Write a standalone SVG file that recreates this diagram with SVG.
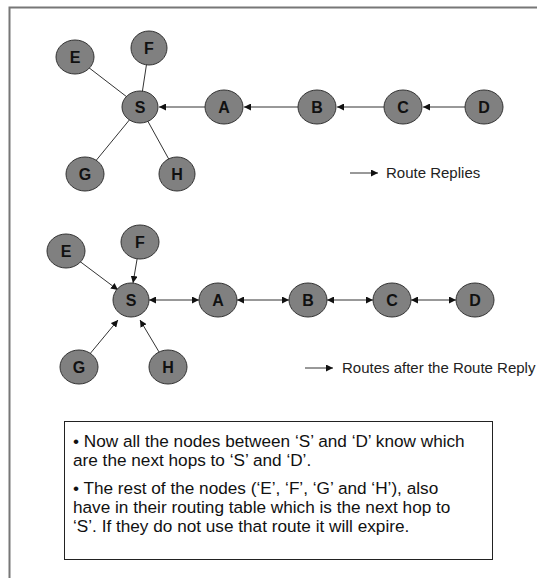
<svg xmlns="http://www.w3.org/2000/svg" width="537" height="578" viewBox="0 0 537 578">
  <style>
    .node ellipse { fill: #808080; stroke: #333; stroke-width: 1; }
    .node text { font-family: "Liberation Sans", Arial, sans-serif; font-weight: bold; font-size: 16px; fill: #111; text-anchor: middle; }
    .edge { stroke: #333; stroke-width: 1; fill: none; }
    .legend { font-family: "Liberation Sans", Arial, sans-serif; font-size: 15px; fill: #222; }
    .note { font-family: "Liberation Sans", Arial, sans-serif; font-size: 17.2px; fill: #111; }
  </style>
  <defs>
    <marker id="head" viewBox="0 0 8 8" refX="8" refY="4" markerWidth="7" markerHeight="7" markerUnits="userSpaceOnUse" orient="auto">
      <path d="M0,0 L8,4 L0,8 z" fill="#111"/>
    </marker>
    <marker id="tail" viewBox="0 0 8 8" refX="0" refY="4" markerWidth="7" markerHeight="7" markerUnits="userSpaceOnUse" orient="auto">
      <path d="M8,0 L0,4 L8,8 z" fill="#111"/>
    </marker>
  </defs>

  <rect width="537" height="578" fill="#fff"/>
  <!-- page frame -->
  <path d="M9.5,578 V7.5 H537" fill="none" stroke="#777" stroke-width="2"/>

  <g id="connectors">
    <!-- upper network: route replies -->
    <line class="edge" x1="75" y1="57" x2="140" y2="107"/>
    <line class="edge" x1="149" y1="48" x2="140" y2="107"/>
    <line class="edge" x1="85" y1="174" x2="140" y2="107"/>
    <line class="edge" x1="177" y1="174" x2="140" y2="107"/>
    <line class="edge" x1="205" y1="107" x2="159" y2="107" marker-end="url(#head)"/>
    <line class="edge" x1="298" y1="107" x2="244" y2="107" marker-end="url(#head)"/>
    <line class="edge" x1="384" y1="107" x2="337" y2="107" marker-end="url(#head)"/>
    <line class="edge" x1="465" y1="107" x2="423" y2="107" marker-end="url(#head)"/>
    <line class="edge" x1="350" y1="173" x2="378" y2="173" marker-end="url(#head)"/>

    <!-- lower network: routes after the reply -->
    <line class="edge" x1="66" y1="251" x2="118" y2="290" marker-end="url(#head)"/>
    <line class="edge" x1="140" y1="242" x2="133" y2="283" marker-end="url(#head)"/>
    <line class="edge" x1="79" y1="367" x2="118" y2="320" marker-end="url(#head)"/>
    <line class="edge" x1="168" y1="367" x2="140" y2="320" marker-end="url(#head)"/>
    <line class="edge" x1="149" y1="300" x2="199" y2="300" marker-start="url(#tail)" marker-end="url(#head)"/>
    <line class="edge" x1="237" y1="300" x2="289" y2="300" marker-start="url(#tail)" marker-end="url(#head)"/>
    <line class="edge" x1="327" y1="300" x2="373" y2="300" marker-start="url(#tail)" marker-end="url(#head)"/>
    <line class="edge" x1="411" y1="300" x2="456" y2="300" marker-start="url(#tail)" marker-end="url(#head)"/>
    <line class="edge" x1="305" y1="368" x2="333" y2="368" marker-end="url(#head)"/>
  </g>

  <!-- upper network nodes -->
  <g id="top-E" class="node"><ellipse cx="75" cy="57" rx="19" ry="17"/><text x="75" y="63">E</text></g>
  <g id="top-F" class="node"><ellipse cx="149" cy="48" rx="18" ry="17"/><text x="149" y="54">F</text></g>
  <g id="top-S" class="node"><ellipse cx="140" cy="107" rx="18" ry="16"/><text x="140" y="113">S</text></g>
  <g id="top-A" class="node"><ellipse cx="224" cy="107" rx="19" ry="17"/><text x="224" y="113">A</text></g>
  <g id="top-B" class="node"><ellipse cx="317" cy="107" rx="19" ry="17"/><text x="317" y="113">B</text></g>
  <g id="top-C" class="node"><ellipse cx="403" cy="107" rx="19" ry="17"/><text x="403" y="113">C</text></g>
  <g id="top-D" class="node"><ellipse cx="484" cy="107" rx="19" ry="17"/><text x="484" y="113">D</text></g>
  <g id="top-G" class="node"><ellipse cx="85" cy="174" rx="19" ry="17"/><text x="85" y="180">G</text></g>
  <g id="top-H" class="node"><ellipse cx="177" cy="174" rx="18" ry="17"/><text x="177" y="180">H</text></g>
  <text class="legend" x="386" y="178">Route Replies</text>

  <!-- lower network nodes -->
  <g id="bot-E" class="node"><ellipse cx="66" cy="251" rx="19" ry="17"/><text x="66" y="257">E</text></g>
  <g id="bot-F" class="node"><ellipse cx="140" cy="242" rx="19" ry="17"/><text x="140" y="248">F</text></g>
  <g id="bot-S" class="node"><ellipse cx="131" cy="300" rx="18" ry="17"/><text x="131" y="306">S</text></g>
  <g id="bot-A" class="node"><ellipse cx="218" cy="300" rx="19" ry="17"/><text x="218" y="306">A</text></g>
  <g id="bot-B" class="node"><ellipse cx="308" cy="300" rx="19" ry="17"/><text x="308" y="306">B</text></g>
  <g id="bot-C" class="node"><ellipse cx="392" cy="300" rx="19" ry="17"/><text x="392" y="306">C</text></g>
  <g id="bot-D" class="node"><ellipse cx="475" cy="300" rx="19" ry="17"/><text x="475" y="306">D</text></g>
  <g id="bot-G" class="node"><ellipse cx="79" cy="367" rx="19" ry="17"/><text x="79" y="373">G</text></g>
  <g id="bot-H" class="node"><ellipse cx="168" cy="367" rx="19" ry="17"/><text x="168" y="373">H</text></g>
  <text class="legend" x="342" y="373">Routes after the Route Reply</text>

  <!-- explanation box -->
  <g id="note">
    <rect x="64.5" y="421.5" width="428" height="138" fill="#fff" stroke="#222" stroke-width="1"/>
    <text class="note" x="73" y="447">• Now all the nodes between ‘S’ and ‘D’ know which</text>
    <text class="note" x="73" y="466">are the next hops to ‘S’ and ‘D’.</text>
    <text class="note" x="73" y="494">• The rest of the nodes (‘E’, ‘F’, ‘G’ and ‘H’), also</text>
    <text class="note" x="73" y="513">have in their routing table which is the next hop to</text>
    <text class="note" x="73" y="532">‘S’. If they do not use that route it will expire.</text>
  </g>
</svg>
